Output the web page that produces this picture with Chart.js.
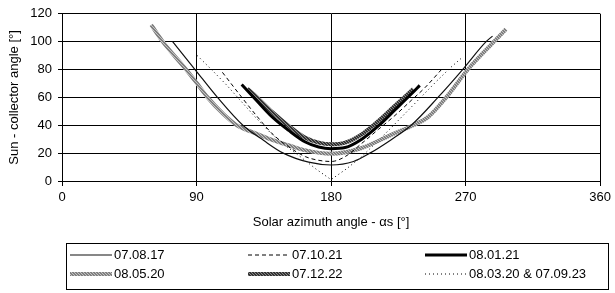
<!DOCTYPE html>
<html>
<head>
<meta charset="utf-8">
<script src="https://cdn.jsdelivr.net/npm/chart.js@4.4.1/dist/chart.umd.min.js"></script>
<style>
  html, body { margin: 0; padding: 0; background: #fff; }
  #wrap { width: 615px; height: 293px; }
</style>
</head>
<body>
<div id="wrap"><canvas id="graphique" width="615" height="293"></canvas></div>
<script>
// [azimuth, sun-collector angle]
const s070817 = [[74,100],[89,80],[104,60],[121,40],[135,29],[148,20],[165,13.5],[180,11.5],[195,14],[206,20],[220,29.5],[233.6,40],[251.5,60],[268,80],[283.7,100],[288,104]];
const s071021 = [[107.3,78],[118.4,62.6],[130,47],[140.6,34],[151.7,24.5],[162.8,17.5],[171,15],[180,14],[189.4,17.5],[200.5,27],[211.6,37],[222.7,47],[233.8,58],[242.8,67],[253.7,79.8]];
const s080121 = [[120.2,69.3],[130,58],[140.6,46],[151.7,36.3],[162.8,28],[171.7,24.4],[180,23.2],[189.4,24],[200.5,30],[211.6,39.5],[222.7,51],[233.8,62.6],[239.3,68.6]];
const s080520 = [[59.7,112],[67.4,100],[83,80],[90,70.5],[97.4,60],[108,48],[117,40],[130,34],[140.6,29.5],[152,25.5],[163,22],[180,19.6],[200,23.5],[222,34],[235,40],[245,46],[257,60],[271.5,80],[289,100],[297,109]];
const s071222 = [[124,66.2],[130,60.5],[140.6,49.5],[151.7,39.5],[162.8,31],[171.7,27.5],[180,26.3],[189.4,27.5],[200.5,33.5],[211.6,43],[222.7,54],[235,66]];
const s080320 = [[90.5,90],[100,80],[110,69],[120,57],[130,45],[140,34],[150,25],[160,17],[170,8.5],[180,1],[190,8.5],[200,17],[211.6,29],[220,38],[230,49],[240,60],[250,71],[260,81.5],[267,88]];

const labels = ["07.08.17", "07.10.21", "08.01.21", "08.05.20", "07.12.22", "08.03.20 & 07.09.23"];
const xTicks = [0, 90, 180, 270, 360];

const FONT = '"Liberation Sans", Arial, sans-serif';

function hatch(base, light) {
  const p = document.createElement("canvas");
  p.width = 3; p.height = 3;
  const g = p.getContext("2d");
  g.fillStyle = base; g.fillRect(0, 0, 3, 3);
  g.fillStyle = light;
  g.fillRect(0, 0, 1, 1); g.fillRect(1, 1, 1, 1); g.fillRect(2, 2, 1, 1);
  return g.createPattern(p, "repeat");
}

const pts = arr => arr.map(([x, y]) => ({ x: x, y: y }));

// legend box drawn under the axes like the original
const boxLegend = {
  id: "boxLegend",
  afterDraw(chart) {
    const ctx = chart.ctx;
    ctx.save();
    ctx.strokeStyle = "#000";
    ctx.lineWidth = 1;
    ctx.setLineDash([]);
    ctx.strokeRect(66.5, 243.5, 542, 46);
    const cols = [70, 248, 425], rows = [255, 274];
    chart.data.datasets.forEach((ds, i) => {
      const x = cols[i % 3], y = rows[Math.floor(i / 3)];
      ctx.beginPath();
      ctx.setLineDash(ds.borderDash || []);
      ctx.lineWidth = ds.borderWidth;
      ctx.strokeStyle = ds.borderColor;
      ctx.moveTo(x, y);
      ctx.lineTo(x + 42, y);
      ctx.stroke();
      ctx.setLineDash([]);
      ctx.fillStyle = "#000";
      ctx.font = "13px " + FONT;
      ctx.textBaseline = "middle";
      ctx.fillText(ds.label, x + 44, y);
    });
    ctx.restore();
  }
};

const ctx = document.getElementById("graphique").getContext("2d");

new Chart(ctx, {
  type: "line",
  data: {
    datasets: [
      { label: labels[0], data: pts(s070817), borderColor: "#111", borderWidth: 1.2, cubicInterpolationMode: "monotone" },
      { label: labels[1], data: pts(s071021), borderColor: "#000", borderWidth: 1, borderDash: [4, 3], cubicInterpolationMode: "monotone" },
      { label: labels[2], data: pts(s080121), borderColor: "#000", borderWidth: 3, cubicInterpolationMode: "monotone" },
      { label: labels[3], data: pts(s080520), borderColor: hatch("#808080", "#c4c4c4"), borderWidth: 4, cubicInterpolationMode: "monotone" },
      { label: labels[4], data: pts(s071222), borderColor: hatch("#333333", "#8a8a8a"), borderWidth: 4, cubicInterpolationMode: "monotone" },
      { label: labels[5], data: pts(s080320), borderColor: "#000", borderWidth: 1, borderDash: [1, 3], tension: 0 }
    ]
  },
  options: {
    responsive: false,
    animation: false,
    parsing: true,
    elements: { point: { radius: 0 } },
    layout: { padding: { left: 0, right: 12, top: 13, bottom: 58 } },
    plugins: {
      legend: { display: false },
      tooltip: { enabled: false }
    },
    scales: {
      x: {
        type: "linear",
        min: 0,
        max: 360,
        afterBuildTicks: s => { s.ticks = xTicks.map(v => ({ value: v })); },
        afterFit: s => { s.height = 54; },
        ticks: { color: "#000", font: { family: FONT, size: 13 }, padding: 4, maxRotation: 0 },
        grid: { color: "#000", lineWidth: 1, tickLength: 5 },
        border: { color: "#000" },
        title: { display: true, text: "Solar azimuth angle - αs [°]", color: "#000", font: { family: FONT, size: 13 }, padding: { top: 0, bottom: 5 } }
      },
      y: {
        min: 0,
        max: 120,
        ticks: { stepSize: 20, color: "#000", font: { family: FONT, size: 13 }, padding: 6 },
        afterFit: s => { s.width = 62; },
        grid: { color: "#000", lineWidth: 1, tickLength: 4 },
        border: { color: "#000" },
        title: { display: true, text: "Sun - collector angle [°]", color: "#000", font: { family: FONT, size: 13 }, padding: { top: 7, bottom: 0 } }
      }
    }
  },
  plugins: [boxLegend]
});
</script>
</body>
</html>
